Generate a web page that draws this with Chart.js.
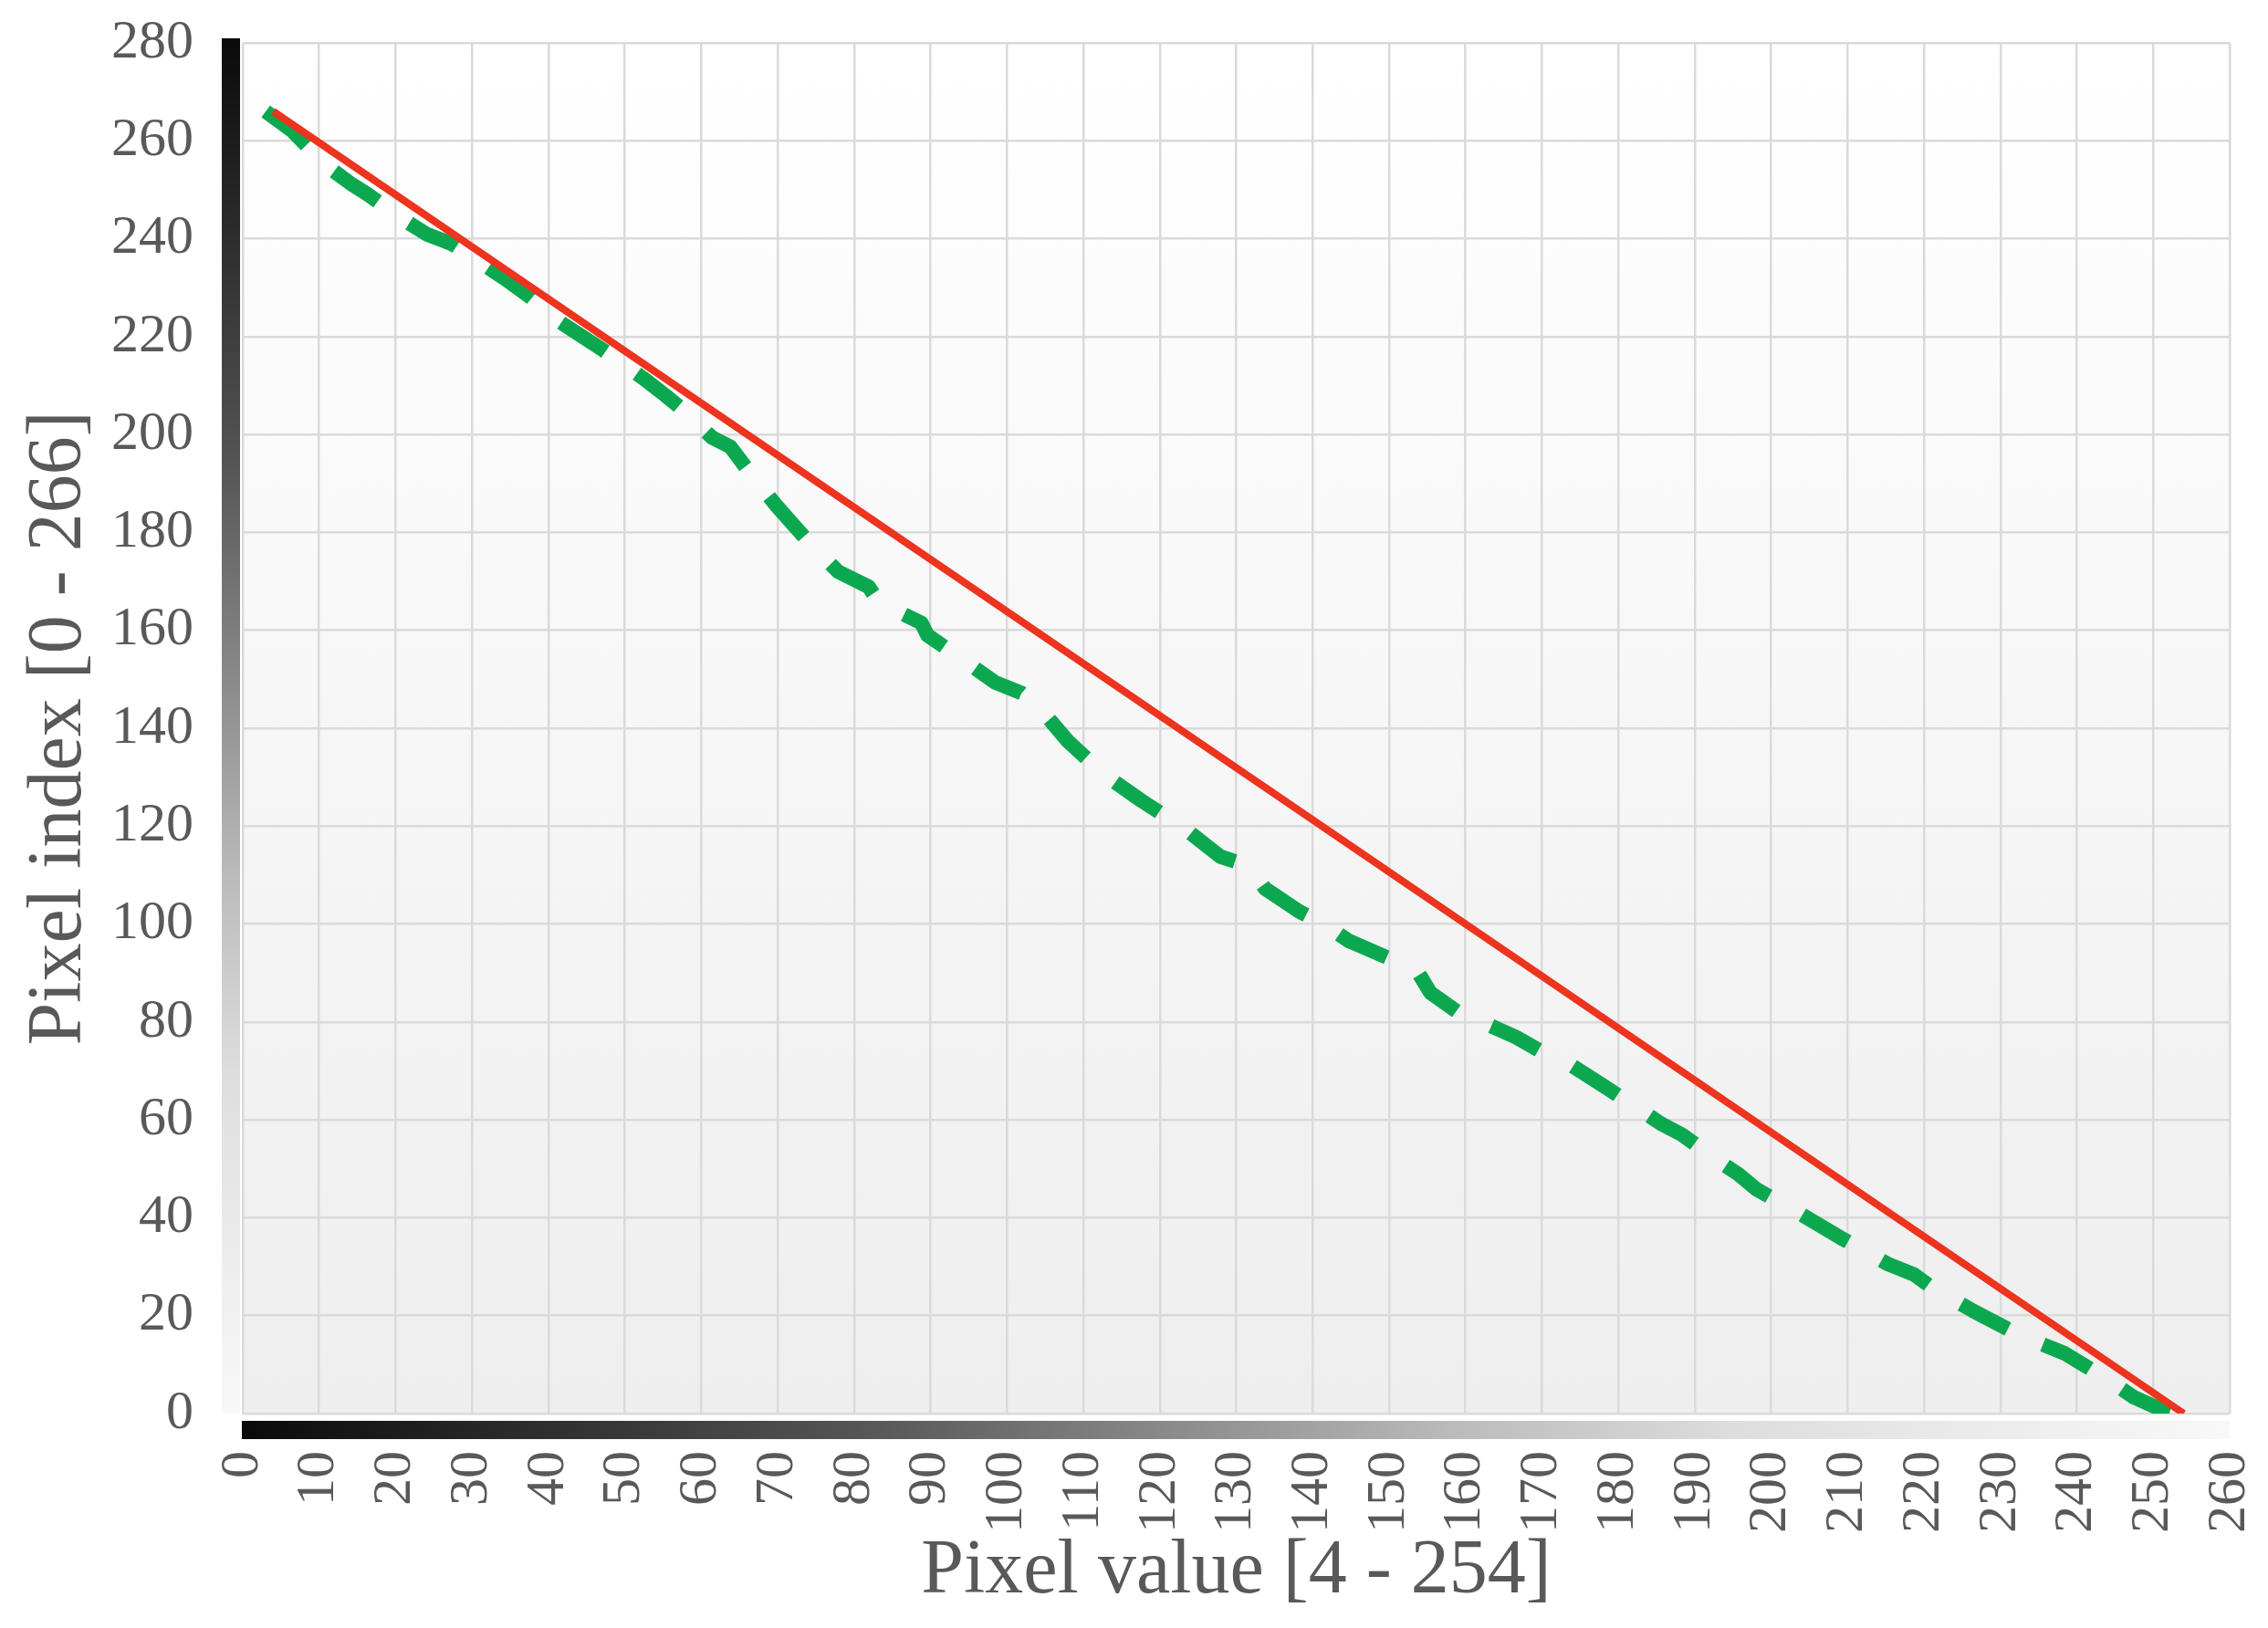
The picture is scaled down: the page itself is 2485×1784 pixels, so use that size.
<!DOCTYPE html>
<html>
<head>
<meta charset="utf-8">
<script src="https://cdn.jsdelivr.net/npm/chart.js@4"></script>
<style>
  html, body { margin: 0; padding: 0; background: #fff; }
</style>
</head>
<body>
<canvas id="myChart" width="2485" height="1784"></canvas>
<script>
// ideal (linear) mapping, red line
const idealX = [4, 254];
const idealY = [266, 0];

// measured mapping, green dashed line
const measuredX = [3, 6.5, 10.8, 14, 16.4, 20.9, 24.1, 27.3, 32.1, 34.5, 37.5, 41.6, 47.2, 52.4, 55.3, 57.4,
  61.4, 63.8, 66.2, 69.7, 73.9, 77.9, 81.9, 83.2, 88.8, 89.6, 93.6, 98.4, 101.9, 104.3, 108, 112.6,
  117.5, 123.6, 127.9, 131.6, 133.8, 138.3, 141.5, 144.7, 150.3, 153.5, 155.4, 159.9, 162.6, 166.6,
  171.9, 174, 177.8, 182.9, 185.6, 188.3, 193.3, 195.7, 198.1, 203.7, 209.1, 215.2, 218.7, 220.8,
  226.4, 232.5, 238.4, 244, 247.5, 250.5, 253];
const measuredY = [266, 262, 255.1, 251.4, 249, 244, 240.9, 239, 234.1, 231.6, 228.2, 222.9, 217.2, 211.5, 208, 205.3,
  199.4, 197.5, 192.5, 185.7, 178.3, 172, 168.9, 165.8, 161.5, 159, 154.7, 149.4, 147.2, 144.1, 137.3, 130.7,
  125.3, 119.1, 113.8, 111.9, 107.2, 102.5, 100, 96.6, 92.8, 90.9, 86, 81, 79.7, 76.9,
  72.2, 71, 67.2, 62, 59.2, 57, 51.4, 48.9, 45.8, 40.9, 35.9, 30.6, 28.4, 26,
  21, 16, 12.3, 7, 3.3, 1.2, 0];

const xTickValues = [0, 10, 20, 30, 40, 50, 60, 70, 80, 90, 100, 110, 120, 130, 140, 150, 160, 170, 180, 190, 200,
  210, 220, 230, 240, 250, 260];
const yTickValues = [0, 20, 40, 60, 80, 100, 120, 140, 160, 180, 200, 220, 240, 260, 280];

const FONT = "'Liberation Serif', 'Times New Roman', serif";
const TXT = '#595959';

function toPoints(xs, ys) {
  var pts = [];
  for (var i = 0; i < xs.length; i++) pts.push({x: xs[i], y: ys[i]});
  return pts;
}

// plot background and the two grey-scale bars next to the axes
const decor = {
  id: 'decor',
  beforeDraw(chart) {
    const ctx = chart.ctx;
    const a = chart.chartArea;
    ctx.save();
    var g = ctx.createLinearGradient(0, a.top, 0, a.bottom);
    g.addColorStop(0, '#ffffff');
    g.addColorStop(1, '#eeeeee');
    ctx.fillStyle = g;
    ctx.fillRect(a.left, a.top, a.right - a.left, a.bottom - a.top);

    var stops = [[0, '#0a0a0a'], [0.17, '#333333'], [0.31, '#555555'], [0.46, '#888888'],
      [0.61, '#bbbbbb'], [0.75, '#dddddd'], [0.9, '#eeeeee'], [1, '#f8f8f8']];

    g = ctx.createLinearGradient(0, a.top - 5, 0, a.bottom);
    stops.forEach(s => g.addColorStop(s[0], s[1]));
    ctx.fillStyle = g;
    ctx.fillRect(a.left - 23, a.top - 5, 20, a.bottom - a.top + 5);

    g = ctx.createLinearGradient(a.left, 0, a.right, 0);
    stops.forEach(s => g.addColorStop(s[0], s[1]));
    ctx.fillStyle = g;
    ctx.fillRect(a.left - 1, a.bottom + 8, a.right - a.left + 1, 20);
    ctx.restore();
  }
};

function main() {
  const chartDiv = document.getElementById('myChart');
  new Chart(chartDiv, {
    type: 'line',
    data: {
      datasets: [{
        label: 'ideal',
        data: toPoints(idealX, idealY),
        borderColor: 'rgb(236, 52, 30)',
        borderWidth: 8,
        pointRadius: 0,
        tension: 0
      }, {
        label: 'measured',
        data: toPoints(measuredX, measuredY),
        borderColor: 'rgb(12, 168, 80)',
        borderWidth: 16,
        borderDash: [58, 42],
        borderCapStyle: 'butt',
        borderJoinStyle: 'round',
        pointRadius: 0,
        tension: 0
      }]
    },
    options: {
      responsive: false,
      animation: false,
      devicePixelRatio: 1,
      layout: { padding: { top: 47, right: 42, left: 0, bottom: 0 } },
      plugins: { legend: { display: false }, tooltip: { enabled: false } },
      scales: {
        x: {
          type: 'linear', min: 0, max: 260,
          afterBuildTicks: s => { s.ticks = xTickValues.map(v => ({value: v})); },
          afterFit: s => { s.height = 235; s.paddingLeft = 0; s.paddingRight = 0; },
          grid: { color: '#dadada', lineWidth: 2.5, drawTicks: false },
          border: { display: false },
          ticks: { color: TXT, font: { family: FONT, size: 60 }, padding: 41,
            minRotation: 90, maxRotation: 90, autoSkip: false },
          title: { display: true, text: 'Pixel value [4 - 254]', color: TXT,
            font: { family: FONT, size: 84 }, padding: { top: 0, bottom: 11 } }
        },
        y: {
          type: 'linear', min: 0, max: 280,
          afterBuildTicks: s => { s.ticks = yTickValues.map(v => ({value: v})); },
          afterFit: s => { s.width = 266; s.paddingTop = 0; s.paddingBottom = 0; },
          grid: { color: '#dadada', lineWidth: 2.5, drawTicks: false },
          border: { display: false },
          ticks: { color: TXT, font: { family: FONT, size: 60 }, padding: 54 },
          title: { display: true, text: 'Pixel index [0 - 266]', color: TXT,
            font: { family: FONT, size: 84 }, padding: { top: 16, bottom: 0 } }
        }
      }
    },
    plugins: [decor]
  });
}

document.addEventListener('DOMContentLoaded', function () {
  main();
});
</script>
</body>
</html>
